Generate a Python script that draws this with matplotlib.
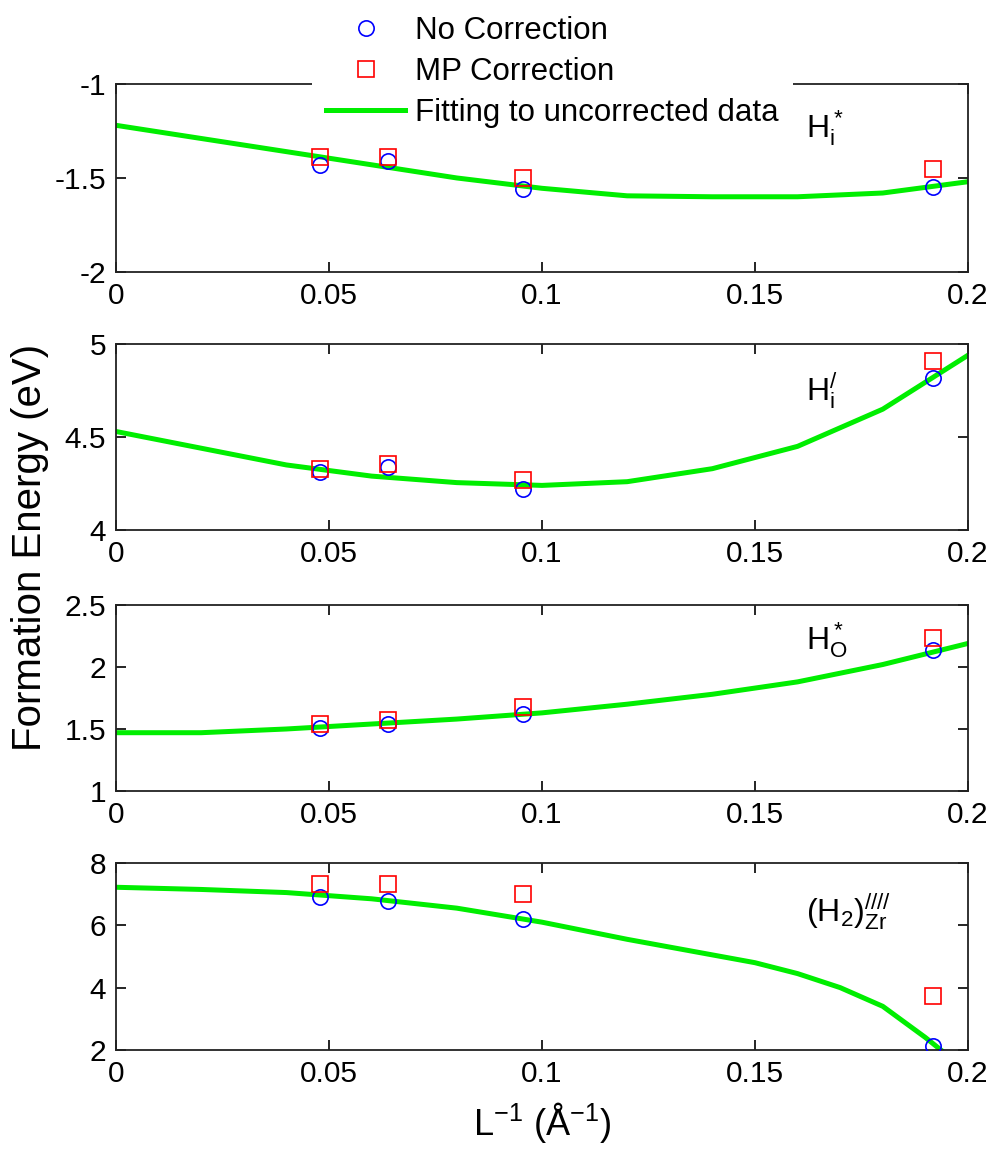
#Recreación de la figura: energía de formación vs L^-1 en cuatro paneles
import numpy as np
import matplotlib.pyplot as plt

plt.rcParams['font.family'] = ['Liberation Sans', 'DejaVu Sans']
plt.rcParams['mathtext.fontset'] = 'custom'
plt.rcParams['mathtext.rm'] = 'Liberation Sans'
plt.rcParams['mathtext.it'] = 'Liberation Sans'

# tamaños de celda inversos (1/Å)
x_data = [0.0478, 0.0638, 0.0956, 0.1917]

# datos sin corrección y con corrección MP, uno por panel
no_corr_1 = [-1.43, -1.41, -1.56, -1.55]
mp_corr_1 = [-1.39, -1.39, -1.50, -1.45]
no_corr_2 = [4.31, 4.34, 4.22, 4.82]
mp_corr_2 = [4.33, 4.355, 4.27, 4.91]
no_corr_3 = [1.51, 1.54, 1.62, 2.14]
mp_corr_3 = [1.54, 1.57, 1.68, 2.23]
no_corr_4 = [6.91, 6.78, 6.20, 2.13]
mp_corr_4 = [7.33, 7.33, 7.00, 3.73]

# curvas de ajuste
x_fit = [0.0, 0.02, 0.04, 0.06, 0.08, 0.10, 0.12, 0.14, 0.16, 0.18, 0.20]
fit_1 = [-1.22, -1.29, -1.36, -1.43, -1.50, -1.555, -1.595, -1.60, -1.60, -1.58, -1.52]
fit_2 = [4.53, 4.44, 4.35, 4.29, 4.255, 4.24, 4.26, 4.33, 4.45, 4.65, 4.94]
fit_3 = [1.47, 1.47, 1.50, 1.54, 1.58, 1.63, 1.70, 1.78, 1.88, 2.02, 2.19]
x_fit_4 = [0.0, 0.02, 0.04, 0.06, 0.08, 0.10, 0.12, 0.14, 0.15, 0.16, 0.17, 0.18, 0.19, 0.20]
fit_4 = [7.22, 7.15, 7.05, 6.85, 6.55, 6.10, 5.55, 5.05, 4.80, 4.45, 4.00, 3.40, 2.40, 1.30]

x_ticks = [0, 0.05, 0.1, 0.15, 0.2]
x_tick_labels = ['0', '0.05', '0.1', '0.15', '0.2']

paneles = [
    (no_corr_1, mp_corr_1, x_fit, fit_1, (-2, -1), [-2, -1.5, -1], ['-2', '-1.5', '-1'],
     r'$\mathregular{H_i^*}$', -1.235),
    (no_corr_2, mp_corr_2, x_fit, fit_2, (4, 5), [4, 4.5, 5], ['4', '4.5', '5'],
     r'$\mathregular{H_i^{/}}$', 4.75),
    (no_corr_3, mp_corr_3, x_fit, fit_3, (1, 2.5), [1, 1.5, 2, 2.5], ['1', '1.5', '2', '2.5'],
     r'$\mathregular{H_O^*}$', 2.22),
    (no_corr_4, mp_corr_4, x_fit_4, fit_4, (2, 8), [2, 4, 6, 8], ['2', '4', '6', '8'],
     r'$\mathregular{(H_2)_{Zr}^{////}}$', 6.43),
]

posiciones = [
    [0.1168, 0.7635, 0.858, 0.1635],
    [0.1168, 0.5391, 0.858, 0.1617],
    [0.1168, 0.3122, 0.858, 0.1617],
    [0.1168, 0.0870, 0.858, 0.1626],
]

fig = plt.figure(figsize=(9.93, 11.5), dpi=100)

for i, (nc, mp, xf, fit, ylim, yt, ytl, etiqueta, ylab) in enumerate(paneles):
    ax = fig.add_axes(posiciones[i])
    h_fit, = ax.plot(xf, fit, color='#00ee00', lw=3.6, zorder=2,
                     label='Fitting to uncorrected data')
    h_nc, = ax.plot(x_data, nc, 'o', mfc='none', mec='#0000ff', mew=1.2, ms=11,
                    zorder=3, label='No Correction')
    h_mp, = ax.plot(x_data, mp, 's', mfc='none', mec='#ff0000', mew=1.2, ms=11,
                    zorder=3, label='MP Correction')
    ax.set_xlim(0, 0.2)
    ax.set_ylim(*ylim)
    ax.set_xticks(x_ticks)
    ax.set_xticklabels(x_tick_labels)
    ax.set_yticks(yt)
    ax.set_yticklabels(ytl)
    ax.tick_params(direction='in', top=True, right=True, length=7, width=1.2,
                   labelsize=21.5, pad=7)
    for s in ax.spines.values():
        s.set_linewidth(1.3)
        s.set_color('#222222')
    ax.text(0.162, ylab, etiqueta, fontsize=23, ha='left', va='center')
    if i == 0:
        handles = [h_nc, h_mp, h_fit]
    if i == 3:
        ax.set_xlabel(r'L$^{-1}$ (Å$^{-1}$)', fontsize=26, labelpad=9)

leg = fig.legend(handles=handles, loc='center', bbox_to_anchor=(0.556, 0.9375),
                 fontsize=22.5, frameon=True, fancybox=False, edgecolor='none',
                 facecolor='white', framealpha=1, handlelength=2.55,
                 handletextpad=0.3, labelspacing=0.36, borderpad=0.45)

fig.text(0.03, 0.524, 'Formation Energy (eV)', rotation=90, fontsize=29,
         ha='center', va='center')

fig.savefig('out.png', dpi=100)
